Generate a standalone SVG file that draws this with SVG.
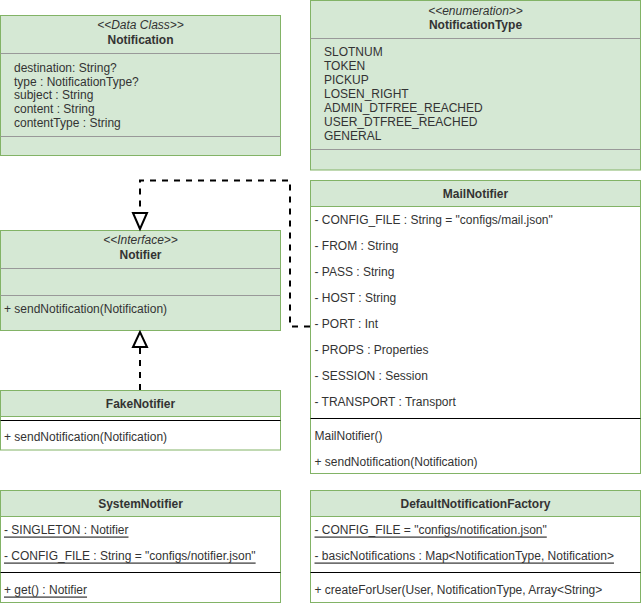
<svg xmlns="http://www.w3.org/2000/svg" width="641" height="606" viewBox="0 0 641 606">
  <style>
    text { font-family: "Liberation Sans", Arial, sans-serif; font-size: 12px; fill: #333333; dominant-baseline: central; }
    .box { fill: #d5e8d4; stroke: #82b366; stroke-width: 1; }
    .body { fill: #ffffff; stroke: #82b366; stroke-width: 1; }
    .sep { stroke: #999999; stroke-width: 1; fill: none; }
    .div { stroke: #000000; stroke-width: 1; fill: none; }
    .title { font-weight: bold; text-anchor: middle; }
    .stereo { font-style: italic; text-anchor: middle; }
    .u { text-decoration: underline; }
    .edge { stroke: #000000; stroke-width: 2; fill: none; stroke-dasharray: 6 6; }
    .head { stroke: #000000; stroke-width: 2; fill: #ffffff; }
  </style>

  <!-- Data class -->
  <g id="notification">
    <rect class="box" x="0.5" y="15.5" width="280" height="140"/>
    <line class="sep" x1="0.5" y1="53.5" x2="280.5" y2="53.5"/>
    <line class="sep" x1="0.5" y1="136.5" x2="280.5" y2="136.5"/>
    <text class="stereo" x="140.5" y="25">&lt;&lt;Data Class&gt;&gt;</text>
    <text class="title" x="140.5" y="40">Notification</text>
    <text x="14" y="67.5">destination: String?</text>
    <text x="14" y="81.5">type : NotificationType?</text>
    <text x="14" y="95">subject : String</text>
    <text x="14" y="108.5">content : String</text>
    <text x="14" y="122.5">contentType : String</text>
  </g>

  <!-- Enumeration -->
  <g id="notification-type">
    <rect class="box" x="310.5" y="0.5" width="330" height="169.5"/>
    <line class="sep" x1="310.5" y1="38.5" x2="640.5" y2="38.5"/>
    <line class="sep" x1="310.5" y1="149.5" x2="640.5" y2="149.5"/>
    <text class="stereo" x="475.5" y="10.5">&lt;&lt;enumeration&gt;&gt;</text>
    <text class="title" x="475.5" y="25">NotificationType</text>
    <text x="324" y="51.5">SLOTNUM</text>
    <text x="324" y="65.5">TOKEN</text>
    <text x="324" y="79.5">PICKUP</text>
    <text x="324" y="93.5">LOSEN_RIGHT</text>
    <text x="324" y="107.5">ADMIN_DTFREE_REACHED</text>
    <text x="324" y="121.5">USER_DTFREE_REACHED</text>
    <text x="324" y="135.5">GENERAL</text>
  </g>

  <!-- Interface -->
  <g id="notifier">
    <rect class="box" x="0.5" y="230.5" width="280" height="100"/>
    <line class="sep" x1="0.5" y1="268.5" x2="280.5" y2="268.5"/>
    <line class="sep" x1="0.5" y1="295.5" x2="280.5" y2="295.5"/>
    <text class="stereo" x="140.5" y="240">&lt;&lt;Interface&gt;&gt;</text>
    <text class="title" x="140.5" y="255">Notifier</text>
    <text x="4" y="308.5">+ sendNotification(Notification)</text>
  </g>

  <!-- Mail implementation -->
  <g id="mail-notifier">
    <rect class="body" x="310.5" y="180.5" width="330" height="293"/>
    <rect class="box" x="310.5" y="180.5" width="330" height="26"/>
    <text class="title" x="475.5" y="194">MailNotifier</text>
    <text x="314.5" y="220">- CONFIG_FILE : String = "configs/mail.json"</text>
    <text x="314.5" y="246">- FROM : String</text>
    <text x="314.5" y="272">- PASS : String</text>
    <text x="314.5" y="298">- HOST : String</text>
    <text x="314.5" y="324">- PORT : Int</text>
    <text x="314.5" y="350">- PROPS : Properties</text>
    <text x="314.5" y="376">- SESSION : Session</text>
    <text x="314.5" y="402">- TRANSPORT : Transport</text>
    <line class="div" x1="310.5" y1="418.5" x2="640.5" y2="418.5"/>
    <text x="314.5" y="436">MailNotifier()</text>
    <text x="314.5" y="462">+ sendNotification(Notification)</text>
  </g>

  <!-- Fake implementation -->
  <g id="fake-notifier">
    <rect class="body" x="0.5" y="390.5" width="280" height="59.5"/>
    <rect class="box" x="0.5" y="390.5" width="280" height="26"/>
    <text class="title" x="140.5" y="403.5">FakeNotifier</text>
    <line class="div" x1="0.5" y1="420.5" x2="280.5" y2="420.5"/>
    <text x="4" y="437">+ sendNotification(Notification)</text>
  </g>

  <!-- Singleton accessor -->
  <g id="system-notifier">
    <rect class="body" x="0.5" y="490.5" width="280" height="112"/>
    <rect class="box" x="0.5" y="490.5" width="280" height="26"/>
    <text class="title" x="140.5" y="503.5">SystemNotifier</text>
    <text class="u" x="4" y="529.5">- SINGLETON : Notifier</text>
    <text class="u" x="4" y="555.5">- CONFIG_FILE : String = "configs/notifier.json"</text>
    <line class="div" x1="0.5" y1="572.5" x2="280.5" y2="572.5"/>
    <text class="u" x="4" y="589.5">+ get() : Notifier</text>
  </g>

  <!-- Factory -->
  <g id="default-notification-factory">
    <rect class="body" x="310.5" y="490.5" width="330" height="112"/>
    <rect class="box" x="310.5" y="490.5" width="330" height="26"/>
    <text class="title" x="475.5" y="503.5">DefaultNotificationFactory</text>
    <text class="u" x="314.5" y="529.5">- CONFIG_FILE = "configs/notification.json"</text>
    <text class="u" x="314.5" y="555.5">- basicNotifications : Map&lt;NotificationType, Notification&gt;</text>
    <line class="div" x1="310.5" y1="572.5" x2="640.5" y2="572.5"/>
    <text x="314.5" y="589.5">+ createForUser(User, NotificationType, Array&lt;String&gt;</text>
  </g>

  <!-- Realization edges -->
  <g id="connectors">
    <path class="edge" d="M 310 326.5 L 290 326.5 L 290 180.5 L 140 180.5 L 140 213"/>
    <polygon class="head" points="140,229 133,213 147,213"/>
    <path class="edge" d="M 140 390 L 140 347"/>
    <polygon class="head" points="140,332 133,347 147,347"/>
  </g>
</svg>
